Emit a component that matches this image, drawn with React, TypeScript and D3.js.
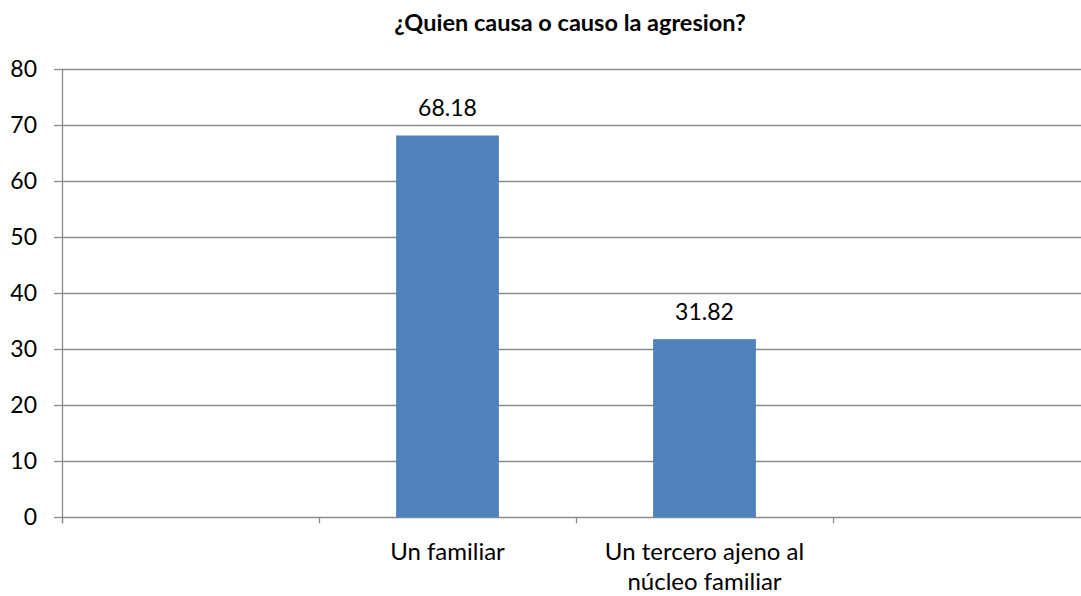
import React from "react";
import * as d3 from "d3";

const title = "¿Quien causa o causo la agresion?";
const categories = ["", "Un familiar", "Un tercero ajeno al núcleo familiar", ""];
const labelLines = [[], ["Un familiar"], ["Un tercero ajeno al", "núcleo familiar"], []];
const values = [null, 68.18, 31.82, null];
const yTicks = [0, 10, 20, 30, 40, 50, 60, 70, 80];

const W = 1081;
const H = 596;
const left = 62;
const right = 1090;
const top = 69.3;
const bottom = 517.3;
const font = "Lato, 'Open Sans', sans-serif";

export default function App() {
  const x = d3.scaleBand<string>().domain(categories.map((c, i) => i + "")).range([left, right]).paddingInner(0).paddingOuter(0);
  const y = d3.scaleLinear().domain([0, 80]).range([bottom, top]);
  const bw = x.bandwidth() / 2.5;
  const grid = "#8c8c8c";
  return (
    <svg width={W} height={H} style={{ position: "absolute", left: 0, top: 0, background: "#fff" }} fontFamily={font}>
      <text x={570} y={31} textAnchor="middle" fontWeight="bold" fontSize={23.5} fill="#000">{title}</text>
      {yTicks.map((t) => (
        <g key={t}>
          <line x1={left} x2={right} y1={Math.round(y(t)) + 0.5} y2={Math.round(y(t)) + 0.5} stroke={grid} strokeWidth={1.3} />
          <line x1={left - 8} x2={left} y1={Math.round(y(t)) + 0.5} y2={Math.round(y(t)) + 0.5} stroke={grid} strokeWidth={1.3} />
          <text x={37} y={y(t) + 8} textAnchor="end" fontSize={23} fill="#000">{t}</text>
        </g>
      ))}
      <line x1={left + 0.5} x2={left + 0.5} y1={top} y2={bottom + 6} stroke={grid} strokeWidth={1.3} />
      {categories.map((c, i) => (
        <line key={"t" + i} x1={x(i + "")! + 0.5} x2={x(i + "")! + 0.5} y1={bottom} y2={bottom + 6} stroke={grid} strokeWidth={1.3} />
      ))}
      {values.map((v, i) =>
        v == null ? null : (
          <g key={"b" + i}>
            <rect x={x(i + "")! + (x.bandwidth() - bw) / 2} y={y(v)} width={bw} height={bottom - y(v)} fill="#4f81bd" />
            <text x={x(i + "")! + x.bandwidth() / 2} y={y(v) - 19} textAnchor="middle" fontSize={23} fill="#000">{v.toFixed(2)}</text>
          </g>
        )
      )}
      {labelLines.map((lines, i) =>
        lines.map((l, j) => (
          <text key={"l" + i + j} x={x(i + "")! + x.bandwidth() / 2} y={560 + j * 30} textAnchor="middle" fontSize={24} fill="#000">{l}</text>
        ))
      )}
    </svg>
  );
}
